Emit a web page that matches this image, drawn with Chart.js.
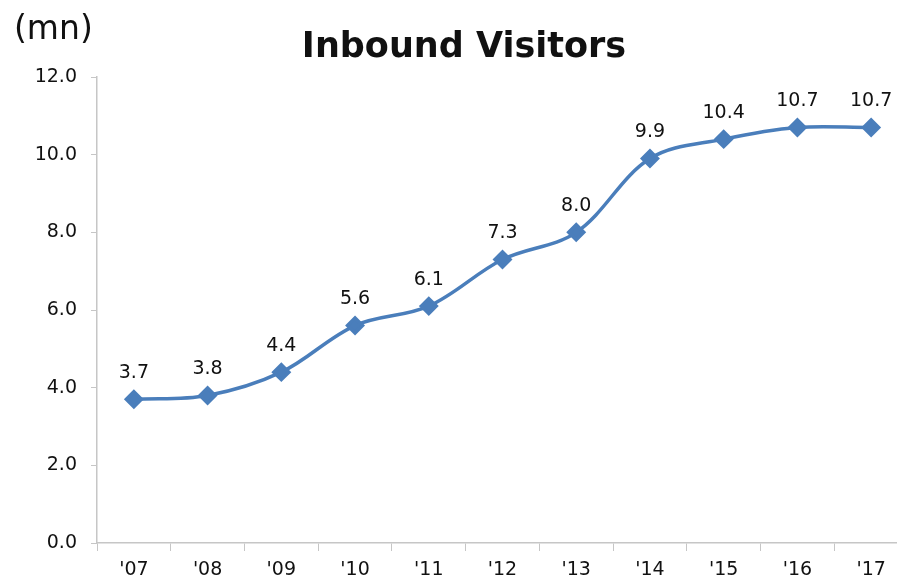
<!DOCTYPE html>
<html>
<head>
<meta charset="utf-8">
<script src="https://cdn.jsdelivr.net/npm/chart.js@4/dist/chart.umd.min.js"></script>
<style>
  html, body { margin: 0; padding: 0; background: #fff; overflow: hidden; }
  #wrap { width: 897px; height: 583px; overflow: hidden; }
</style>
</head>
<body>
<div id="wrap"><canvas id="visitorsChart" width="928" height="583"></canvas></div>
<script>
// Inbound visitors line chart

const years = ["'07", "'08", "'09", "'10", "'11", "'12", "'13", "'14", "'15", "'16", "'17"];
const visitors = [3.7, 3.8, 4.4, 5.6, 6.1, 7.3, 8.0, 9.9, 10.4, 10.7, 10.7];
const yTicks = [0, 2, 4, 6, 8, 10, 12];

const lineColor = '#4A7EBB';
const axisColor = '#c6c6c6';
const textColor = '#111111';
const fontFamily = '"DejaVu Sans", Verdana, sans-serif';

// Value labels above each point, plus the unit label in the corner
const valueLabels = {
  id: 'valueLabels',
  afterDatasetsDraw(chart) {
    const ctx = chart.ctx;
    const meta = chart.getDatasetMeta(0);
    ctx.save();
    ctx.font = '19px ' + fontFamily;
    ctx.fillStyle = textColor;
    ctx.textAlign = 'center';
    ctx.textBaseline = 'middle';
    meta.data.forEach((pt, i) => {
      ctx.fillText(visitors[i].toFixed(1), pt.x, pt.y - 26);
    });
    ctx.font = '33px ' + fontFamily;
    ctx.textAlign = 'left';
    ctx.fillText('(mn)', 14, 30);
    ctx.restore();
  }
};

const ctx = document.getElementById('visitorsChart').getContext('2d');
new Chart(ctx, {
  type: 'line',
  data: {
    labels: years,
    datasets: [{
      data: visitors,
      borderColor: lineColor,
      backgroundColor: lineColor,
      borderWidth: 3.5,
      tension: 0.35,
      pointStyle: 'rectRot',
      pointRadius: 7.5,
      pointHoverRadius: 7.5,
      pointBackgroundColor: lineColor,
      pointBorderColor: lineColor
    }]
  },
  options: {
    responsive: false,
    animation: false,
    layout: { padding: { left: 20, right: 20, top: 0, bottom: 0 } },
    plugins: {
      legend: { display: false },
      tooltip: { enabled: false },
      title: {
        display: true,
        text: 'Inbound Visitors',
        color: textColor,
        font: { family: fontFamily, size: 35, weight: 'bold' },
        padding: { top: 27, bottom: 8 }
      }
    },
    scales: {
      x: {
        offset: true,
        grid: { offset: true, drawOnChartArea: false, color: axisColor, tickLength: 8 },
        border: { color: axisColor, width: 1.5 },
        ticks: { color: textColor, font: { family: fontFamily, size: 19 }, padding: 8 },
        afterFit(scale) { scale.height = 40; }
      },
      y: {
        min: 0,
        max: 12,
        afterBuildTicks(scale) { scale.ticks = yTicks.map(v => ({ value: v })); },
        grid: { drawOnChartArea: false, color: axisColor, tickLength: 6 },
        border: { color: axisColor, width: 1.5 },
        ticks: {
          color: textColor,
          font: { family: fontFamily, size: 19 },
          padding: 14,
          callback: v => v.toFixed(1)
        },
        afterFit(scale) { scale.width = 77; }
      }
    }
  },
  plugins: [valueLabels]
});
</script>
</body>
</html>
